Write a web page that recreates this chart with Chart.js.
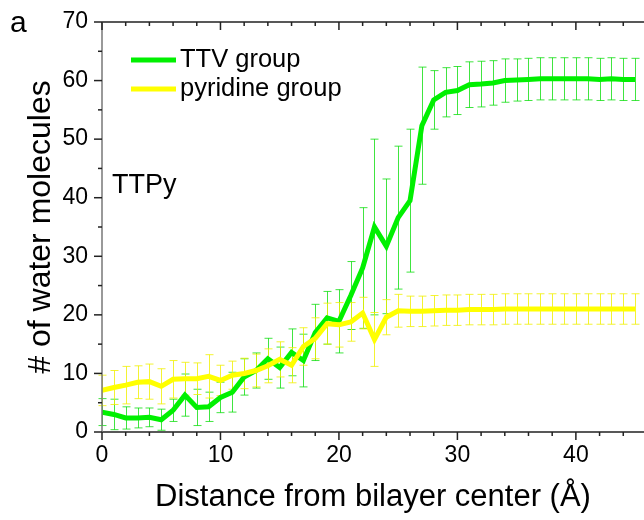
<!DOCTYPE html>
<html>
<head>
<meta charset="utf-8">
<script src="https://cdn.jsdelivr.net/npm/chart.js@4.4.0/dist/chart.umd.min.js"></script>
<style>
    html, body { margin: 0; padding: 0; background: #fff; overflow: hidden; }
    #wrap { width: 644px; height: 520px; }
</style>
</head>
<body>
<div id="wrap"><canvas id="waterChart" width="644" height="520"></canvas></div>
<script>
// Distance from bilayer center (Angstrom)
const distance = [0, 1, 2, 3, 4, 5, 6, 7, 8, 9, 10, 11, 12, 13, 14, 15, 16, 17, 18, 19, 20, 21, 22,
    23, 24, 25, 26, 27, 28, 29, 30, 31, 32, 33, 34, 35, 36, 37, 38, 39, 40, 41, 42, 43, 44, 45];

// TTV group: mean number of water molecules and error
const ttvValues = [3.4, 3.0, 2.4, 2.4, 2.5, 2.1, 3.7, 6.3, 4.2, 4.3, 5.9, 6.8, 9.4, 10.5, 12.5, 11.0,
    13.6, 12.2, 17.0, 19.5, 18.9, 23.3, 28.0, 35.0, 31.7, 36.6, 39.5, 52.3, 56.7, 58.0, 58.3, 59.3,
    59.4, 59.6, 60.0, 60.1, 60.2, 60.3, 60.3, 60.3, 60.3, 60.3, 60.2, 60.3, 60.2, 60.2];
const ttvErrors = [2.3, 2.6, 1.9, 1.7, 1.6, 1.8, 1.9, 3.6, 3.1, 2.5, 2.6, 3.4, 3.1, 3.0, 3.5, 3.5,
    4.0, 4.5, 4.8, 4.5, 5.4, 5.8, 10.3, 15.0, 11.5, 12.2, 12.2, 10.0, 5.0, 4.2, 4.1, 3.9,
    3.9, 3.8, 3.7, 3.6, 3.6, 3.6, 3.6, 3.6, 3.6, 3.6, 3.6, 3.6, 3.6, 3.6];

// pyridine group: mean number of water molecules and error
const pyrValues = [7.1, 7.6, 8.0, 8.5, 8.6, 7.8, 9.0, 9.1, 9.1, 9.5, 8.8, 9.7, 10.0, 10.5, 11.3, 12.4,
    11.4, 14.6, 16.0, 18.5, 18.3, 18.8, 20.3, 15.8, 19.6, 20.7, 20.6, 20.6, 20.7, 20.8, 20.8, 20.9,
    20.9, 20.9, 21.0, 21.0, 21.0, 21.0, 21.0, 21.0, 21.0, 21.0, 21.0, 21.0, 21.0, 21.0];
const pyrErrors = [2.6, 2.9, 3.2, 2.8, 3.0, 3.0, 3.2, 2.8, 2.7, 3.7, 2.6, 2.4, 2.6, 2.8, 2.9, 3.0,
    3.0, 3.2, 3.5, 3.5, 3.8, 3.3, 2.7, 4.6, 3.0, 2.8, 2.6, 2.6, 2.6, 2.6, 2.6, 2.6,
    2.6, 2.6, 2.6, 2.6, 2.6, 2.6, 2.6, 2.6, 2.6, 2.6, 2.6, 2.6, 2.6, 2.6];

const seriesLabels = ['TTV group', 'pyridine group'];
const xTickValues = [0, 10, 20, 30, 40];
const yTickValues = [0, 10, 20, 30, 40, 50, 60, 70];

const FONT = "'Liberation Sans', Arial, sans-serif";
const GREEN = '#00f000';
const YELLOW = '#ffff00';

function toPoints(values) {
    return distance.map((d, i) => ({ x: d, y: values[i] }));
}

// Error bars drawn underneath the lines
const errorBarPlugin = {
    id: 'errorBars',
    beforeDatasetsDraw(chart) {
        const ctx = chart.ctx;
        const xScale = chart.scales.x;
        const yScale = chart.scales.y;
        const sets = [
            { values: ttvValues, errors: ttvErrors, color: 'rgba(0, 220, 0, 0.75)' },
            { values: pyrValues, errors: pyrErrors, color: 'rgba(240, 240, 0, 0.8)' }
        ];
        ctx.save();
        ctx.lineWidth = 1;
        sets.forEach(set => {
            ctx.strokeStyle = set.color;
            distance.forEach((d, i) => {
                const px = Math.round(xScale.getPixelForValue(d)) + 0.5;
                const top = yScale.getPixelForValue(set.values[i] + set.errors[i]);
                const bottom = yScale.getPixelForValue(set.values[i] - set.errors[i]);
                ctx.beginPath();
                ctx.moveTo(px, top);
                ctx.lineTo(px, bottom);
                ctx.moveTo(px - 4, top);
                ctx.lineTo(px + 4, top);
                ctx.moveTo(px - 4, bottom);
                ctx.lineTo(px + 4, bottom);
                ctx.stroke();
            });
        });
        ctx.restore();
    }
};

// Axis lines, major/minor ticks, legend and annotations
const framePlugin = {
    id: 'frame',
    afterDraw(chart) {
        const ctx = chart.ctx;
        const area = chart.chartArea;
        const xScale = chart.scales.x;
        const yScale = chart.scales.y;
        ctx.save();

        // axis lines
        ctx.lineWidth = 1.5;
        ctx.strokeStyle = '#222';
        ctx.beginPath();
        ctx.moveTo(area.left, area.bottom);
        ctx.lineTo(area.right, area.bottom);
        ctx.moveTo(area.left, area.top);
        ctx.lineTo(area.right, area.top);
        ctx.stroke();
        ctx.strokeStyle = '#777';
        ctx.beginPath();
        ctx.moveTo(area.left, area.top);
        ctx.lineTo(area.left, area.bottom);
        ctx.stroke();

        // x ticks (bottom outward, top inward)
        ctx.strokeStyle = '#222';
        ctx.lineWidth = 1.5;
        for (let v = 0; v <= xScale.max; v += 2) {
            const px = xScale.getPixelForValue(v);
            const len = v % 10 === 0 ? 8 : 4;
            ctx.beginPath();
            ctx.moveTo(px, area.bottom);
            ctx.lineTo(px, area.bottom + len);
            ctx.moveTo(px, area.top);
            ctx.lineTo(px, area.top + len);
            ctx.stroke();
        }
        // y ticks (left outward)
        for (let v = 0; v <= 70; v += 5) {
            const py = yScale.getPixelForValue(v);
            const len = v % 10 === 0 ? 8 : 4;
            ctx.beginPath();
            ctx.moveTo(area.left, py);
            ctx.lineTo(area.left - len, py);
            ctx.stroke();
        }

        // legend inside plot
        const legendColors = [GREEN, YELLOW];
        ctx.font = '25.5px ' + FONT;
        ctx.textBaseline = 'middle';
        ctx.textAlign = 'left';
        seriesLabels.forEach((label, i) => {
            const ly = 60 + i * 29;
            ctx.strokeStyle = legendColors[i];
            ctx.lineWidth = 5;
            ctx.beginPath();
            ctx.moveTo(131, ly);
            ctx.lineTo(176, ly);
            ctx.stroke();
            ctx.fillStyle = '#000';
            ctx.fillText(label, 180, ly);
        });

        // annotations
        ctx.fillStyle = '#000';
        ctx.textBaseline = 'alphabetic';
        ctx.font = '27px ' + FONT;
        ctx.fillText('TTPy', 112, 193);
        ctx.font = '30px ' + FONT;
        ctx.fillText('a', 10, 32);

        ctx.restore();
    }
};

const ctx = document.getElementById('waterChart').getContext('2d');
const waterChart = new Chart(ctx, {
    type: 'line',
    data: {
        datasets: [{
            label: seriesLabels[0],
            data: toPoints(ttvValues),
            borderColor: GREEN,
            borderWidth: 5,
            pointRadius: 0,
            tension: 0,
            order: 1
        }, {
            label: seriesLabels[1],
            data: toPoints(pyrValues),
            borderColor: YELLOW,
            borderWidth: 5,
            pointRadius: 0,
            tension: 0,
            order: 0
        }]
    },
    options: {
        responsive: false,
        animation: false,
        devicePixelRatio: 1,
        layout: { padding: { top: 22, right: 0, left: 0, bottom: 0 } },
        plugins: {
            legend: { display: false },
            tooltip: { enabled: false }
        },
        scales: {
            x: {
                type: 'linear',
                min: 0,
                max: 45.75,
                grid: { display: false, drawTicks: false },
                border: { display: false },
                afterBuildTicks: scale => {
                    scale.ticks = xTickValues.map(v => ({ value: v }));
                },
                afterFit: scale => {
                    scale.height = 88;
                    scale.paddingLeft = 0;
                    scale.paddingRight = 0;
                },
                ticks: {
                    padding: 10,
                    color: '#000',
                    font: { size: 23, family: FONT }
                },
                title: {
                    display: true,
                    text: 'Distance from bilayer center (Å)',
                    color: '#000',
                    padding: { bottom: 4 },
                    font: { size: 31, family: FONT }
                }
            },
            y: {
                min: 0,
                max: 70,
                grid: { display: false, drawTicks: false },
                border: { display: false },
                afterBuildTicks: scale => {
                    scale.ticks = yTickValues.map(v => ({ value: v }));
                },
                afterFit: scale => {
                    scale.width = 102;
                    scale.paddingTop = 0;
                    scale.paddingBottom = 0;
                },
                ticks: {
                    padding: 14,
                    color: '#000',
                    font: { size: 23, family: FONT }
                },
                title: {
                    display: true,
                    text: '# of water molecules',
                    color: '#000',
                    padding: { top: 22 },
                    font: { size: 32, family: FONT }
                }
            }
        }
    },
    plugins: [errorBarPlugin, framePlugin]
});
</script>
</body>
</html>
